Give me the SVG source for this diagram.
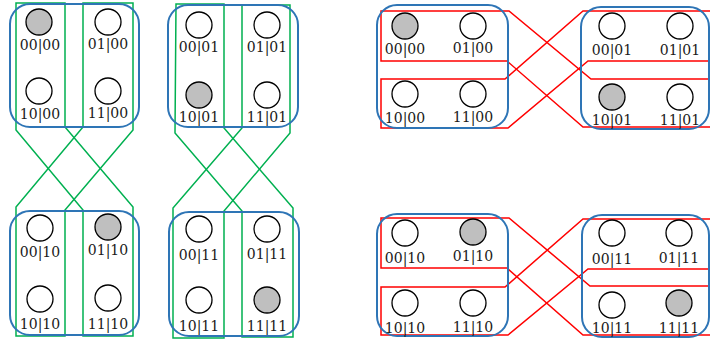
<svg xmlns="http://www.w3.org/2000/svg" width="710" height="343" viewBox="0 0 710 343">
<style>
.bg{fill:#ffffff}
.grp{fill:none;stroke:#2E75B6;stroke-width:2}
.g{fill:none;stroke:#00B050;stroke-width:1.5;stroke-linejoin:miter}
.r{fill:none;stroke:#FF0000;stroke-width:1.5}
.c{fill:#ffffff;stroke:#000000;stroke-width:1.3}
.c.on{fill:#BFBFBF}
text{font-family:"DejaVu Serif","Liberation Serif",serif;font-size:14px;fill:#1a1a1a;text-anchor:middle}
</style>
<rect class="bg" x="0" y="0" width="710" height="343"/>
<g id="connectors">
  <polygon class="g" points="16,3 65,3 65,127 133,207 133,336 83,336 83,210 16,130"/>
  <polygon class="g" points="83,3 133,3 133,130 65,210 65,336 16,336 16,207 83,127"/>
  <polygon class="g" points="176,4 224,4 224,128 293,208 293,337 242,337 242,211 175,133"/>
  <polygon class="g" points="242,5 290,5 290,133 224,211 224,338 173,338 173,208 242,128"/>
  <polyline class="r" points="712,79 591,79 509,11 381,11 381,61 507,61 583,127 712,127"/>
  <polyline class="r" points="712,11 583,11 505,79 381,79 381,128 508,128 588,61 712,61"/>
  <polyline class="r" points="712,286 590,286 509,218 381,218 381,268 507,268 583,335 712,335"/>
  <polyline class="r" points="712,219 583,219 505,287 381,287 381,335 508,335 588,269 712,269"/>
</g>
<g id="groups">
  <rect class="grp" x="10" y="4" width="129" height="123" rx="20"/>
  <rect class="grp" x="168" y="5" width="130" height="122" rx="20"/>
  <rect class="grp" x="10" y="211" width="129" height="124" rx="20"/>
  <rect class="grp" x="169" y="212" width="130" height="124" rx="20"/>
  <rect class="grp" x="377" y="5" width="131" height="123" rx="20"/>
  <rect class="grp" x="581" y="7" width="128" height="122" rx="20"/>
  <rect class="grp" x="377" y="214" width="131" height="122" rx="20"/>
  <rect class="grp" x="582" y="215" width="127" height="122" rx="20"/>
</g>
<g id="n-a-0000"><circle class="c on" cx="39" cy="22" r="13"/><text x="40" y="50">00|00</text></g>
<g id="n-a-0100"><circle class="c" cx="108" cy="22" r="13"/><text x="108" y="49">01|00</text></g>
<g id="n-a-1000"><circle class="c" cx="39" cy="91" r="13"/><text x="40" y="119">10|00</text></g>
<g id="n-a-1100"><circle class="c" cx="108" cy="91" r="13"/><text x="108" y="118">11|00</text></g>
<g id="n-a-0001"><circle class="c" cx="199" cy="25" r="13"/><text x="199" y="52">00|01</text></g>
<g id="n-a-0101"><circle class="c" cx="267" cy="25" r="13"/><text x="267" y="52">01|01</text></g>
<g id="n-a-1001"><circle class="c on" cx="199" cy="95" r="13"/><text x="199" y="122">10|01</text></g>
<g id="n-a-1101"><circle class="c" cx="267" cy="95" r="13"/><text x="267" y="122">11|01</text></g>
<g id="n-a-0010"><circle class="c" cx="40" cy="228" r="13"/><text x="40" y="257">00|10</text></g>
<g id="n-a-0110"><circle class="c on" cx="108" cy="227" r="13"/><text x="108" y="255">01|10</text></g>
<g id="n-a-1010"><circle class="c" cx="40" cy="299" r="13"/><text x="40" y="329">10|10</text></g>
<g id="n-a-1110"><circle class="c" cx="108" cy="298" r="13"/><text x="108" y="329">11|10</text></g>
<g id="n-a-0011"><circle class="c" cx="199" cy="229" r="13"/><text x="199" y="260">00|11</text></g>
<g id="n-a-0111"><circle class="c" cx="267" cy="229" r="13"/><text x="267" y="259">01|11</text></g>
<g id="n-a-1011"><circle class="c" cx="199" cy="300" r="13"/><text x="199" y="331">10|11</text></g>
<g id="n-a-1111"><circle class="c on" cx="267" cy="300" r="13"/><text x="267" y="331">11|11</text></g>
<g id="n-b-0000"><circle class="c on" cx="405" cy="26" r="13"/><text x="405" y="54">00|00</text></g>
<g id="n-b-0100"><circle class="c" cx="473" cy="26" r="13"/><text x="473" y="53">01|00</text></g>
<g id="n-b-1000"><circle class="c" cx="405" cy="94" r="13"/><text x="405" y="123">10|00</text></g>
<g id="n-b-1100"><circle class="c" cx="473" cy="94" r="13"/><text x="473" y="122">11|00</text></g>
<g id="n-b-0001"><circle class="c" cx="612" cy="26" r="13"/><text x="612" y="55">00|01</text></g>
<g id="n-b-0101"><circle class="c" cx="680" cy="26" r="13"/><text x="680" y="55">01|01</text></g>
<g id="n-b-1001"><circle class="c on" cx="612" cy="97" r="13"/><text x="612" y="125">10|01</text></g>
<g id="n-b-1101"><circle class="c" cx="680" cy="97" r="13"/><text x="680" y="125">11|01</text></g>
<g id="n-b-0010"><circle class="c" cx="405" cy="233" r="13"/><text x="405" y="263">00|10</text></g>
<g id="n-b-0110"><circle class="c on" cx="473" cy="232" r="13"/><text x="473" y="261">01|10</text></g>
<g id="n-b-1010"><circle class="c" cx="405" cy="303" r="13"/><text x="405" y="333">10|10</text></g>
<g id="n-b-1110"><circle class="c" cx="473" cy="303" r="13"/><text x="473" y="332">11|10</text></g>
<g id="n-b-0011"><circle class="c" cx="612" cy="233" r="13"/><text x="612" y="264">00|11</text></g>
<g id="n-b-0111"><circle class="c" cx="679" cy="233" r="13"/><text x="679" y="263">01|11</text></g>
<g id="n-b-1011"><circle class="c" cx="612" cy="305" r="13"/><text x="612" y="333">10|11</text></g>
<g id="n-b-1111"><circle class="c on" cx="679" cy="303" r="13"/><text x="679" y="333">11|11</text></g>
</svg>
